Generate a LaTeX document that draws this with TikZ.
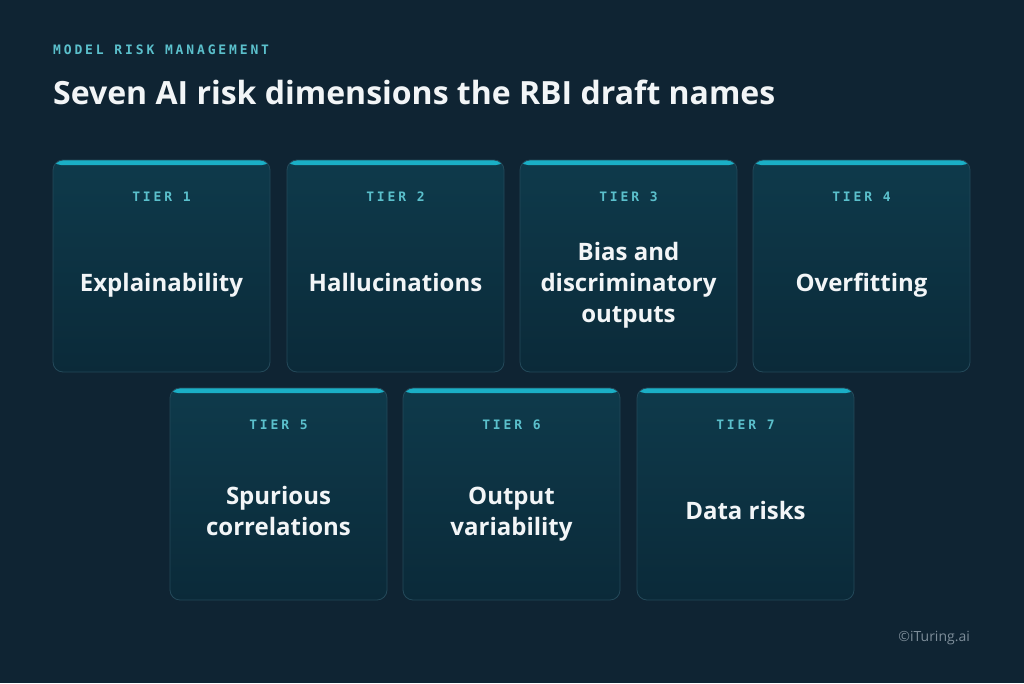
\documentclass[tikz,border=0pt]{standalone}
\usepackage{fontspec}
\setmainfont{Open Sans}
\newfontfamily\monof[LetterSpace=22]{DejaVu Sans Mono}
\newfontfamily\plainf{Open Sans}
\definecolor{bg}{HTML}{0F2433}
\definecolor{cardtop}{HTML}{0E3A4B}
\definecolor{cardbot}{HTML}{0B2A39}
\definecolor{cardline}{HTML}{24495A}
\definecolor{accent}{HTML}{1AAFC6}
\definecolor{tierc}{HTML}{5BC0CC}
\definecolor{txt}{HTML}{F2F5F7}
\definecolor{copyc}{HTML}{7D8D99}
\newcommand\rline[1]{\strut#1}
\tikzset{
  card/.style={draw=cardline, line width=0.8pt, rounded corners=10pt,
    minimum width=217pt, minimum height=212pt, inner sep=0pt,
    top color=cardtop, bottom color=cardbot,
    path picture={\fill[accent] ([xshift=-2pt,yshift=2pt]path picture bounding box.north west) rectangle ([xshift=2pt,yshift=-5pt]path picture bounding box.north east);}},
  tier/.style={font=\monof\bfseries\fontsize{13}{15}\selectfont, text=tierc, inner sep=0pt},
  risk/.style={font=\bfseries\fontsize{24}{31}\selectfont, text=txt, align=center, inner sep=0pt},
}
\begin{document}
\begin{tikzpicture}[x=1pt,y=-1pt]
\fill[bg] (0,0) rectangle (1024,683);
\useasboundingbox (0,0) rectangle (1024,683);
\node[anchor=west, font=\monof\bfseries\fontsize{13}{15}\selectfont, text=tierc, inner sep=0pt] (hdr) at (53,50) {MODEL RISK MANAGEMENT};
\node[anchor=west, font=\bfseries\fontsize{32}{36}\selectfont, text=txt, inner sep=0pt] (title) at (53,92) {Seven AI risk dimensions the RBI draft names};
% row 1
\node[card] (c1) at (161.5,266) {};
\node[card] (c2) at (395.5,266) {};
\node[card] (c3) at (628.5,266) {};
\node[card] (c4) at (861.5,266) {};
% row 2
\node[card] (c5) at (278.5,494) {};
\node[card] (c6) at (511.5,494) {};
\node[card] (c7) at (745.5,494) {};
\foreach \i in {1,...,7}{
  \node[tier] (t\i) at ([yshift=-37pt]c\i.north) {TIER \i};
}
\node[risk] (r1) at ([yshift=-19.5pt]c1.center) {\rline{Explainability}};
\node[risk] (r2) at ([yshift=-19.5pt]c2.center) {\rline{Hallucinations}};
\node[risk] (r3) at ([yshift=-19.5pt]c3.center) {\rline{Bias and}\\\rline{discriminatory}\\\rline{outputs}};
\node[risk] (r4) at ([yshift=-19.5pt]c4.center) {\rline{Overfitting}};
\node[risk] (r5) at ([yshift=-19.5pt]c5.center) {\rline{Spurious}\\\rline{correlations}};
\node[risk] (r6) at ([yshift=-19.5pt]c6.center) {\rline{Output}\\\rline{variability}};
\node[risk] (r7) at ([yshift=-19.5pt]c7.center) {\rline{Data risks}};
\node[anchor=east, font=\plainf\fontsize{14}{16}\selectfont, text=copyc, inner sep=0pt] (copy) at (970,638) {©iTuring.ai};
\end{tikzpicture}
\end{document}
